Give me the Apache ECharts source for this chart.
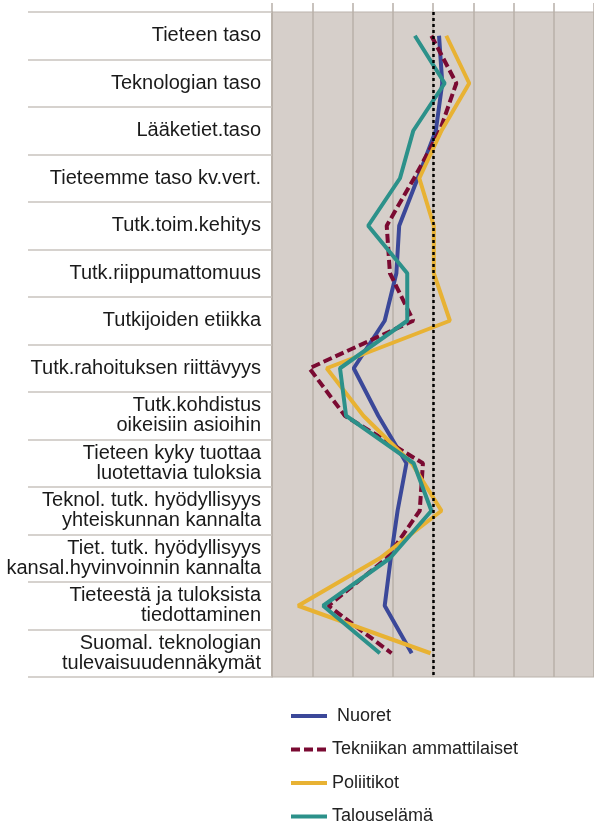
<!DOCTYPE html>
<html>
<head>
<meta charset="utf-8">
<script src="https://cdn.jsdelivr.net/npm/echarts@6/dist/echarts.min.js"></script>
<style>
    html, body { margin: 0; padding: 0; background: #fff; }
    #chart { width: 594px; height: 827px; }
</style>
</head>
<body>
<div id="chart"></div>
<script>
// Kategoriat (ylhäältä alas)
var categories = [
    'Tieteen taso',
    'Teknologian taso',
    'Lääketiet.taso',
    'Tieteemme taso kv.vert.',
    'Tutk.toim.kehitys',
    'Tutk.riippumattomuus',
    'Tutkijoiden etiikka',
    'Tutk.rahoituksen riittävyys',
    'Tutk.kohdistus\noikeisiin asioihin',
    'Tieteen kyky tuottaa\nluotettavia tuloksia',
    'Teknol. tutk. hyödyllisyys\nyhteiskunnan kannalta',
    'Tiet. tutk. hyödyllisyys\nkansal.hyvinvoinnin kannalta',
    'Tieteestä ja tuloksista\ntiedottaminen',
    'Suomal. teknologian\ntulevaisuudennäkymät'
];

// Sarjat
var nuoret      = [4.15, 4.23, 4.07, 3.62, 3.16, 3.09, 2.80, 2.03, 2.64, 3.34, 3.12, 2.95, 2.80, 3.47];
var tekniikan   = [3.96, 4.58, 4.17, 3.53, 2.85, 2.93, 3.51, 0.93, 1.81, 3.75, 3.67, 2.85, 1.40, 2.97];
var poliitikot  = [4.33, 4.90, 4.21, 3.66, 4.02, 4.02, 4.42, 1.36, 2.27, 3.47, 4.21, 2.68, 0.65, 3.94];
var talous      = [3.55, 4.29, 3.51, 3.18, 2.39, 3.36, 3.36, 1.69, 1.84, 3.52, 3.96, 2.93, 1.27, 2.68];

var seriesNames = [' Nuoret', 'Tekniikan ammattilaiset', 'Poliitikot', 'Talouselämä'];

// Arvoakseli ja keskiviiva
var axisMin = 0,
    axisMax = 8,
    axisStep = 1,
    midValue = 4;

var chart = echarts.init(document.getElementById('chart'));

function lineSeries(name, data, color, dashed) {
    return {
        name: name,
        type: 'line',
        data: data,
        symbol: 'none',
        smooth: false,
        lineStyle: {
            color: color,
            width: 4,
            type: dashed ? [9, 4] : 'solid'
        },
        itemStyle: { color: color }
    };
}

var series = [
    lineSeries(seriesNames[0], nuoret, '#3b4899', false),
    lineSeries(seriesNames[1], tekniikan, '#7a0a32', true),
    lineSeries(seriesNames[2], poliitikot, '#e8b233', false),
    lineSeries(seriesNames[3], talous, '#2c918a', false)
];

// pisteviiva keskiarvon kohdalle
series[0].markLine = {
    silent: true,
    symbol: 'none',
    label: { show: false },
    lineStyle: { color: '#000', width: 2.5, type: [3, 3] },
    data: [{ xAxis: midValue }]
};

var option = {
    animation: false,
    backgroundColor: '#ffffff',
    grid: {
        left: 272,
        right: 0,
        top: 12,
        bottom: 150,
        show: true,
        backgroundColor: '#d6cfca',
        borderColor: '#bbb3ac',
        borderWidth: 1
    },
    legend: {
        orient: 'vertical',
        left: 289,
        top: 707,
        padding: 0,
        itemWidth: 36,
        itemHeight: 8,
        itemGap: 15.5,
        itemStyle: { opacity: 0 },
        lineStyle: { width: 4 },
        data: seriesNames,
        textStyle: {
            fontFamily: 'Liberation Sans',
            fontSize: 18,
            color: '#222',
            lineHeight: 18
        }
    },
    xAxis: {
        type: 'value',
        position: 'top',
        min: axisMin,
        max: axisMax,
        interval: axisStep,
        axisLine: { show: false },
        axisTick: {
            show: true,
            length: 9,
            lineStyle: { color: '#b8b0a9', width: 1.5 }
        },
        axisLabel: { show: false },
        splitLine: {
            show: true,
            lineStyle: { color: '#b8b0a9', width: 1.5 }
        }
    },
    yAxis: {
        type: 'category',
        inverse: true,
        data: categories,
        boundaryGap: true,
        axisLine: {
            show: true,
            lineStyle: { color: '#b8b0a9', width: 1.5 }
        },
        axisTick: {
            show: true,
            length: 244,
            interval: 0,
            lineStyle: { color: '#c9c3be', width: 1.5 }
        },
        axisLabel: {
            interval: 0,
            margin: 11,
            fontFamily: 'Liberation Sans',
            fontSize: 20,
            lineHeight: 20,
            color: '#1a1a1a',
            align: 'right'
        },
        splitLine: { show: false }
    },
    series: series
};

chart.setOption(option);
</script>
</body>
</html>
